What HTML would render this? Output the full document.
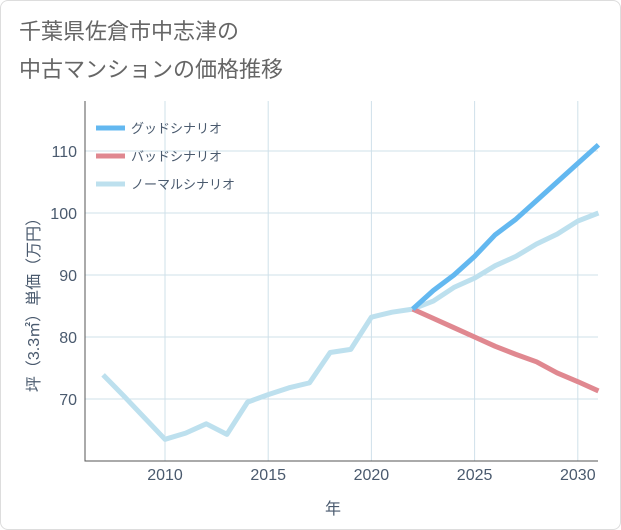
<!DOCTYPE html>
<html><head><meta charset="utf-8"><style>
body{margin:0;background:#fff;font-family:"Liberation Sans","Noto Sans CJK JP",sans-serif;}
#wrap{position:relative;width:619px;height:528px;border:1px solid #ddd;border-radius:8px;overflow:hidden;background:#fff}
</style></head><body>
<div id="wrap">
<svg id="chart" width="621" height="530"></svg>
</div>
<script>
const years=[2007,2008,2009,2010,2011,2012,2013,2014,2015,2016,2017,2018,2019,2020,2021,2022,2023,2024,2025,2026,2027,2028,2029,2030,2031];
const normal=[73.9,70.5,67,63.5,64.5,66,64.3,69.5,70.7,71.8,72.6,77.5,78,83.2,84,84.5,85.8,88,89.5,91.5,93,95,96.6,98.7,100];
const goodYears=[2022,2023,2024,2025,2026,2027,2028,2029,2030,2031];
const good=[84.5,87.5,90,93,96.5,99,102,105,108,111];
const bad=[84.5,83,81.5,80,78.5,77.2,76,74.2,72.8,71.3];
const xTicks=[2010,2015,2020,2025,2030];
const yTicks=[70,80,90,100,110];
const NS="http://www.w3.org/2000/svg";
const svg=document.getElementById('chart');
const L=84,R=597,T=100,B=460;
const x=v=>164+(v-2010)*20.64;
const y=v=>398-(v-70)*6.2;
function el(t,a,p){const e=document.createElementNS(NS,t);for(const k in a)e.setAttribute(k,a[k]);(p||svg).appendChild(e);return e;}
function txt(s,a){const e=el('text',a);e.textContent=s;return e;}
let t1=txt('千葉県佐倉市中志津の',{x:18,y:38,'font-size':22,fill:'#666'});

let t2=txt('中古マンションの価格推移',{x:18,y:76,'font-size':22,fill:'#666'});

xTicks.forEach(v=>{
 const g=el('line',{x1:x(v),x2:x(v),y1:T,y2:B,stroke:'#cfe0ea','stroke-width':1});
 
});
yTicks.forEach(v=>{const yy=y(v);
 const g=el('line',{x1:L,x2:R,y1:yy,y2:yy,stroke:'#cfe0ea'});
 });
const ax=el('path',{d:`M${L} ${T}V${B}H${R}`,fill:'none',stroke:'#555','stroke-width':1});

xTicks.forEach(v=>{const e=txt(v,{x:x(v),y:479,'font-size':16,fill:'#4a5a6e','text-anchor':'middle'});
 });
yTicks.forEach(v=>{const e=txt(v,{x:76,y:y(v)+6,'font-size':16,fill:'#4a5a6e','text-anchor':'end'});
 });
let xt=txt('年',{x:332,y:513,'font-size':16,fill:'#4a5a6e','text-anchor':'middle'});

let yt=txt('坪（3.3㎡）単価（万円）',{x:0,y:0,'font-size':16,fill:'#4a5a6e','text-anchor':'middle',transform:'translate(38,300) rotate(-90)'});

function line(xs,vs,c,n){const d=vs.map((v,i)=>(i?'L':'M')+x(xs[i])+' '+y(v)).join('');
 const p=el('path',{d,fill:'none',stroke:c,'stroke-width':5,'stroke-linejoin':'round'});
 }
line(years,normal,'#bde0ee','normal-line');
line(goodYears,bad,'#e08890','bad-line');
line(goodYears,good,'#63b8f0','good-line');
[['グッドシナリオ','#63b8f0',127],['バッドシナリオ','#e08890',155],['ノーマルシナリオ','#bde0ee',183]].forEach(([s,c,yy],i)=>{
 const g=el('g',{});
 el('line',{x1:95,x2:124,y1:yy,y2:yy,stroke:c,'stroke-width':5},g);
 const t=el('text',{x:130,y:yy+5,'font-size':13,fill:'#4a5a6e'},g);t.textContent=s;
});
</script>
</body></html>
